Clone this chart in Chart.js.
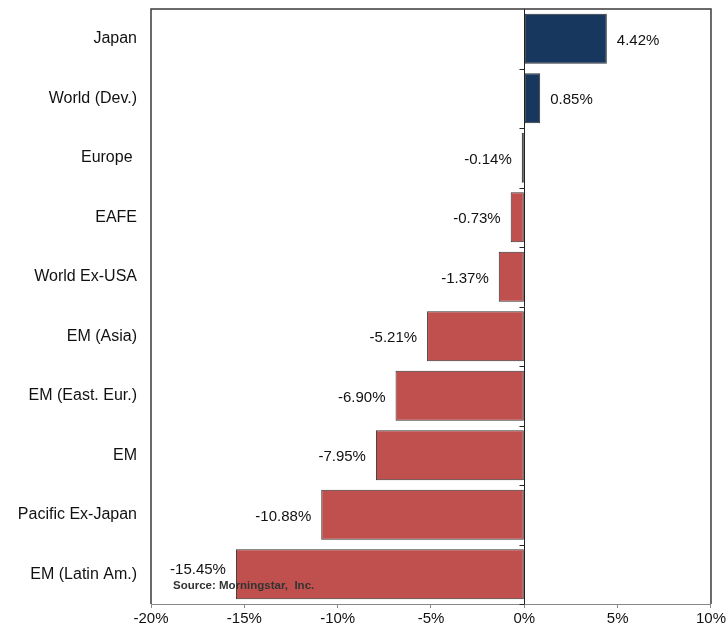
<!DOCTYPE html>
<html>
<head>
<meta charset="utf-8">
<script src="https://cdn.jsdelivr.net/npm/chart.js@4"></script>
<style>
  html, body { margin: 0; padding: 0; background: #fff; }
  #wrap { width: 728px; height: 627px; }
</style>
</head>
<body>
<div id="wrap"><canvas id="myChart" width="728" height="627"></canvas></div>
<script>
var regions = ["Japan", "World (Dev.)", "Europe ", "EAFE", "World Ex-USA", "EM (Asia)",
               "EM (East. Eur.)", "EM", "Pacific Ex-Japan", "EM (Latin Am.)"];
var returns = [4.42, 0.85, -0.14, -0.73, -1.37, -5.21, -6.90, -7.95, -10.88, -15.45];
var xTicks = [-20, -15, -10, -5, 0, 5, 10];
var sourceNote = "Source: Morningstar,  Inc.";

var BLUE = '#17375E';
var RED = '#C0504D';

// frame, zero line with its little ticks, value labels and the source note
var extras = {
    id: 'extras',
    beforeDatasetsDraw: function (chart) {
        var c = chart.ctx, a = chart.chartArea;
        c.save();
        c.strokeStyle = '#3a3a3a';
        c.lineWidth = 1.5;
        c.beginPath();
        c.moveTo(a.left, a.bottom);
        c.lineTo(a.left, a.top);
        c.lineTo(a.right, a.top);
        c.lineTo(a.right, a.bottom);
        c.stroke();
        c.restore();
    },
    afterDatasetsDraw: function (chart) {
        var c = chart.ctx, a = chart.chartArea;
        var xs = chart.scales.x;
        var x0 = Math.round(xs.getPixelForValue(0)) + 0.5;
        c.save();
        c.strokeStyle = '#222';
        c.lineWidth = 1;
        c.beginPath();
        c.moveTo(x0, a.top);
        c.lineTo(x0, a.bottom);
        var step = (a.bottom - a.top) / regions.length;
        for (var i = 1; i <= regions.length; i++) {
            var yy = Math.round(a.top + step * i) + 0.5;
            c.moveTo(x0 - 5, yy);
            c.lineTo(x0, yy);
        }
        c.stroke();

        c.font = '15px Arial, "Liberation Sans", sans-serif';
        c.fillStyle = '#111';
        c.textBaseline = 'middle';
        var last = returns.length - 1;
        chart.getDatasetMeta(0).data.forEach(function (bar, i) {
            var v = returns[i];
            var txt = v.toFixed(2) + '%';
            // bottom label sits a bit higher to clear the source note
            var ty = i === last ? bar.y - 4 : bar.y + 2;
            if (v >= 0) {
                c.textAlign = 'left';
                c.fillText(txt, bar.x + 10, ty);
            } else {
                c.textAlign = 'right';
                c.fillText(txt, bar.x - 10, ty);
            }
        });

        c.font = 'bold 11.5px Arial, "Liberation Sans", sans-serif';
        c.fillStyle = '#333';
        c.textAlign = 'left';
        c.textBaseline = 'alphabetic';
        c.fillText(sourceNote, a.left + 22, a.bottom - 15);
        c.restore();
    }
};

var ctx = document.getElementById('myChart').getContext('2d');
var chart = new Chart(ctx, {
    type: 'bar',
    data: {
        labels: regions,
        datasets: [{
            data: returns,
            backgroundColor: returns.map(function (v) { return v >= 0 ? BLUE : RED; }),
            borderColor: '#333',
            borderWidth: 1,
            borderSkipped: false,
            categoryPercentage: 1,
            barPercentage: 0.84
        }]
    },
    options: {
        indexAxis: 'y',
        responsive: false,
        animation: false,
        devicePixelRatio: 1,
        layout: { padding: { top: 9, right: 17, bottom: 0, left: 0 } },
        plugins: {
            legend: { display: false },
            tooltip: { enabled: false }
        },
        scales: {
            x: {
                min: -20,
                max: 10,
                afterBuildTicks: function (scale) {
                    scale.ticks = xTicks.map(function (v) { return { value: v }; });
                },
                afterFit: function (scale) { scale.height = 23; },
                grid: { drawOnChartArea: false, tickLength: 4, color: '#888' },
                border: { color: '#888', width: 1 },
                ticks: {
                    padding: 2,
                    color: '#111',
                    font: { family: 'Arial, "Liberation Sans", sans-serif', size: 15 },
                    callback: function (v) { return v + '%'; }
                }
            },
            y: {
                afterFit: function (scale) {
                    scale.width = 151;
                    scale.paddingTop = 0;
                    scale.paddingBottom = 0;
                },
                grid: { display: false },
                border: { display: false },
                ticks: {
                    padding: 6,
                    color: '#111',
                    font: { family: 'Arial, "Liberation Sans", sans-serif', size: 16 }
                }
            }
        }
    },
    plugins: [extras]
});
</script>
</body>
</html>
